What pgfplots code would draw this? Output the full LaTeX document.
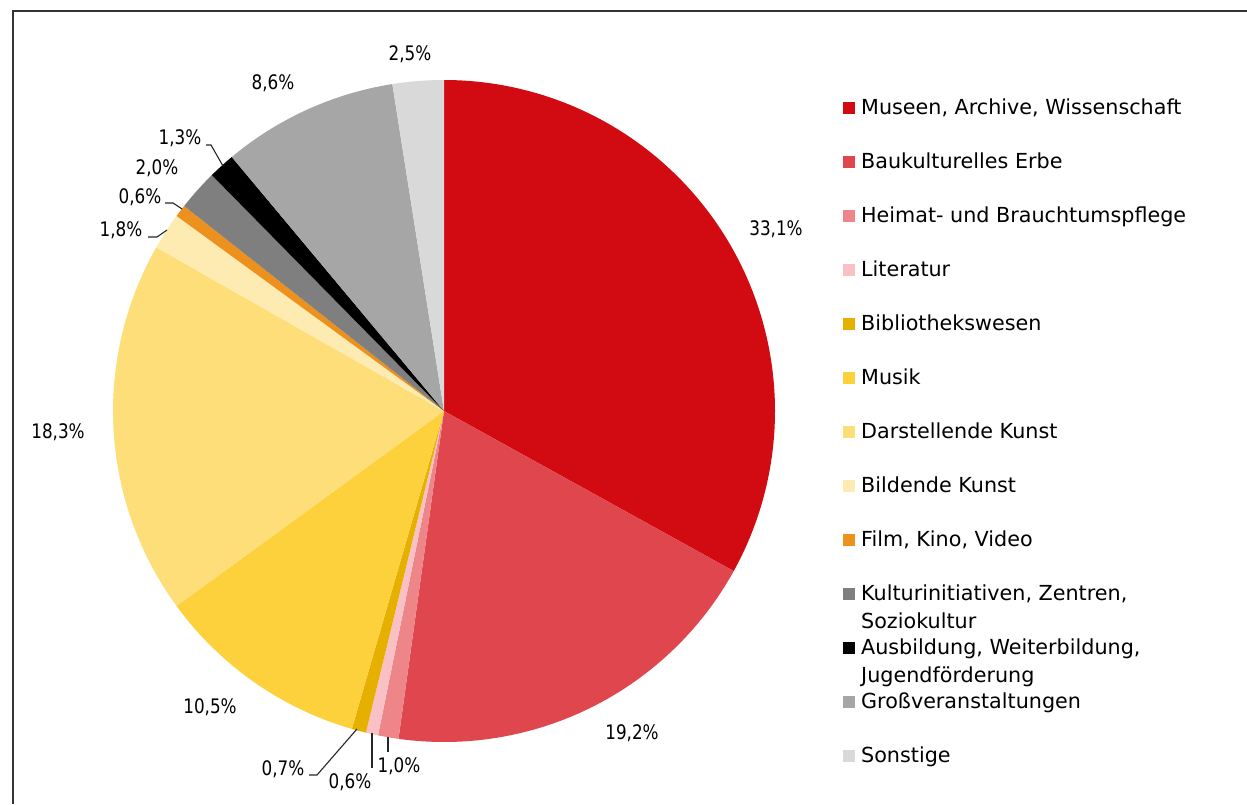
\documentclass[border=0pt]{standalone}
\usepackage{fontspec}
\setmainfont{DejaVu Sans}
\newfontfamily\lblfont{DejaVu Sans}[FakeStretch=0.84]
\usepackage{pgfplots}
\pgfplotsset{compat=1.18}
\usepackage{pgfplotstable}
\definecolor{slice0}{HTML}{D20A11}
\definecolor{slice1}{HTML}{E0464E}
\definecolor{slice2}{HTML}{EE8589}
\definecolor{slice3}{HTML}{F9C1C5}
\definecolor{slice4}{HTML}{E6B000}
\definecolor{slice5}{HTML}{FDD13B}
\definecolor{slice6}{HTML}{FEDE78}
\definecolor{slice7}{HTML}{FEEBB2}
\definecolor{slice8}{HTML}{EC901E}
\definecolor{slice9}{HTML}{7F7F7F}
\definecolor{slice10}{HTML}{000000}
\definecolor{slice11}{HTML}{A6A6A6}
\definecolor{slice12}{HTML}{D9D9D9}
\definecolor{leader}{HTML}{262626}

\pgfplotstableread{
value
33.1
19.2
1.0
0.6
0.7
10.5
18.3
1.8
0.6
2.0
1.3
8.6
2.5
}\piedata

\begin{document}
\begin{tikzpicture}
\useasboundingbox (0,0) rectangle (1247pt,804pt);
% total
\gdef\total{0}
\foreach \i in {0,...,12}{%
  \pgfplotstablegetelem{\i}{value}\of\piedata
  \pgfmathsetmacro\tmpT{\total+\pgfplotsretval}%
  \global\let\total\tmpT
}
% angles (clockwise from 12 o'clock)
\gdef\cum{0}
\foreach \i in {0,...,12}{%
  \pgfplotstablegetelem{\i}{value}\of\piedata
  \pgfmathsetmacro\angA{90-(\cum/\total)*360}%
  \pgfmathsetmacro\cumB{\cum+\pgfplotsretval}%
  \pgfmathsetmacro\angB{90-(\cumB/\total)*360}%
  \expandafter\xdef\csname sa\i\endcsname{\angA}%
  \expandafter\xdef\csname sb\i\endcsname{\angB}%
  \global\let\cum\cumB
}
\begin{axis}[
  at={(0pt,0pt)}, anchor=south west,
  x=1pt, y=1pt,
  xmin=-444, xmax=803, ymin=-393, ymax=411,
  hide axis, clip=false,
  legend style={at={(axis description cs:0.6760,0.8769)}, anchor=north west,
    draw=none, fill=none, inner sep=0pt, row sep=37pt, column sep=6pt,
    font=\fontsize{20.7}{24}\selectfont,
    nodes={inner sep=0pt, text height=15pt, text depth=2pt}},
  legend cell align=left,
  legend image code/.code={\fill[#1] (0pt,-6pt) rectangle (12pt,6pt);},
  legend entries={
    {Museen, Archive, Wissenschaft},
    {Baukulturelles Erbe},
    {Heimat- und Brauchtumspflege},
    {Literatur},
    {Bibliothekswesen},
    {Musik},
    {Darstellende Kunst},
    {Bildende Kunst},
    {Film, Kino, Video},
    {\begin{tabular}[t]{@{}l@{}}Kulturinitiativen, Zentren,\\[4pt]Soziokultur\end{tabular}},
    {\begin{tabular}[t]{@{}l@{}}Ausbildung, Weiterbildung,\\[4pt]Jugendförderung\end{tabular}},
    {Großveranstaltungen},
    {Sonstige}
  },
]
\pgfplotsforeachungrouped \i in {0,...,12}{%
  \edef\cmd{\noexpand\addplot[draw=none, fill=slice\i, domain=\csname sb\i\endcsname:\csname sa\i\endcsname, samples=120] ({331*cos(x)},{331*sin(x)}) -- (0,0) -- cycle;}%
  \cmd
}
% percentage labels
\begin{scope}[every node/.style={font=\lblfont\fontsize{20}{24}\selectfont, inner sep=0pt}]
\node at (axis cs:332,182) {33,1\%};
\node at (axis cs:188,-322) {19,2\%};
\node at (axis cs:-45,-355) {1,0\%};
\node at (axis cs:-94,-371) {0,6\%};
\node at (axis cs:-161,-358) {0,7\%};
\node at (axis cs:-234,-296) {10,5\%};
\node at (axis cs:-386,-21) {18,3\%};
\node at (axis cs:-323,181) {1,8\%};
\node at (axis cs:-304,214) {0,6\%};
\node at (axis cs:-287,243) {2,0\%};
\node at (axis cs:-264,273) {1,3\%};
\node at (axis cs:-171,328) {8,6\%};
\node at (axis cs:-34,357) {2,5\%};
\end{scope}
% leader lines
\begin{scope}[leader, line width=1.1pt]
\draw (axis cs:-238,266) -- (axis cs:-233,266) -- (axis cs:-221,245);
\draw (axis cs:-279,208) -- (axis cs:-271,208) -- (axis cs:-262,202);
\draw (axis cs:-296,174) -- (axis cs:-287,174) -- (axis cs:-277,181);
\draw (axis cs:-135,-364) -- (axis cs:-127,-364) -- (axis cs:-87,-318);
\draw (axis cs:-72,-322) -- (axis cs:-72,-357);
\draw (axis cs:-56,-326) -- (axis cs:-56,-341);
\end{scope}
\end{axis}
\draw[line width=1.3pt, black!80] (13pt,0pt) -- (13pt,793pt) -- (1247pt,793pt);
\end{tikzpicture}
\end{document}
